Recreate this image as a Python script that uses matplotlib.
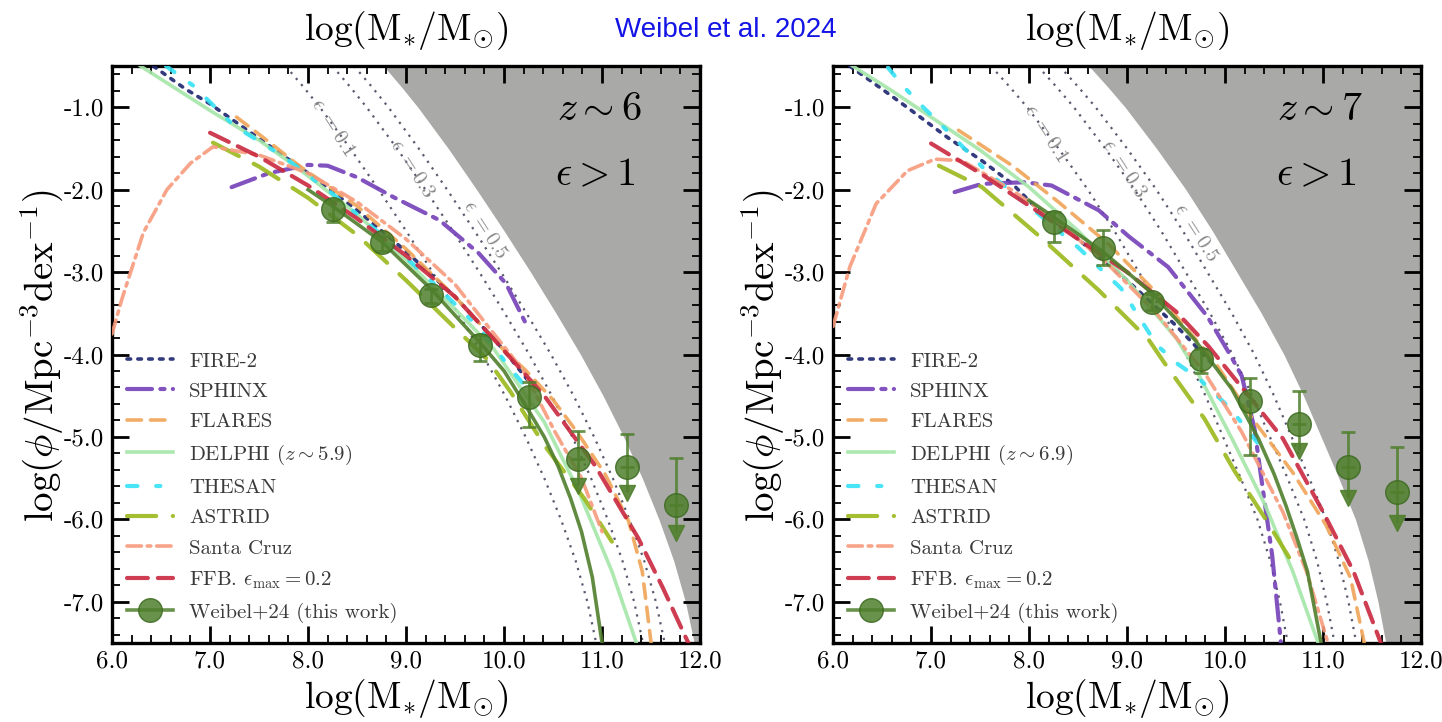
import matplotlib
matplotlib.use('Agg')
import matplotlib.pyplot as plt
from matplotlib.lines import Line2D
from matplotlib.ticker import MultipleLocator
import numpy as np

plt.rcParams['font.family'] = 'serif'
plt.rcParams['font.serif'] = ['cmr10']
plt.rcParams['mathtext.fontset'] = 'cm'
plt.rcParams['axes.unicode_minus'] = False
plt.rcParams['axes.formatter.use_mathtext'] = True

# ------------------------------------------------------------
# data (log M*, log phi)
# ------------------------------------------------------------
# epsilon > 1 limit (grey region), z~6 and z~7
LIMIT_Y = [-0.5, -0.75, -1.0, -1.5, -2.0, -2.5, -3.0, -3.5, -4.0, -4.5, -5.0, -5.5, -6.0, -6.5, -7.0, -7.5]
LIMIT_Z6_X = [8.77, 8.95, 9.12, 9.43, 9.72, 10.0, 10.27, 10.53, 10.78, 11.01, 11.22, 11.41, 11.58, 11.73, 11.85, 11.94]
LIMIT_Z7_X = [8.61, 8.80, 8.98, 9.30, 9.60, 9.87, 10.12, 10.37, 10.60, 10.80, 10.98, 11.16, 11.33, 11.46, 11.56, 11.64]
EPS_VALUES = [0.1, 0.3, 0.5]
EPS_LABELS = [r'$\epsilon\ {=}0.1$', r'$\epsilon\ {=}0.3$', r'$\epsilon\ {=}0.5$']
EPS_LABEL_Z6 = [(8.25, -1.25), (9.06, -1.75), (9.80, -2.49)]
EPS_LABEL_Z7 = [(8.17, -1.32), (8.97, -1.75), (9.70, -2.52)]

# z ~ 6 models
FIRE2_Z6_X = [6.42, 6.75, 7.0, 7.5, 8.0, 8.5, 9.0, 9.5, 10.0, 10.3]
FIRE2_Z6_Y = [-0.5, -0.78, -0.96, -1.38, -1.8, -2.25, -2.75, -3.3, -3.95, -4.4]
SPHINX_Z6_X = [7.22, 7.6, 8.0, 8.2, 8.5, 8.87, 9.34, 9.74, 10.02, 10.22]
SPHINX_Z6_Y = [-1.97, -1.8, -1.7, -1.71, -1.85, -2.09, -2.37, -2.77, -3.14, -3.62]
FLARES_Z6_X = [7.27, 7.6, 7.92, 8.5, 9.0, 9.5, 10.0, 10.21, 10.5, 10.75, 11.03, 11.27, 11.41, 11.5]
FLARES_Z6_Y = [-1.12, -1.42, -1.72, -2.2, -2.72, -3.3, -3.95, -4.18, -4.55, -4.95, -5.45, -6.02, -6.63, -7.5]
DELPHI_Z6_X = [6.29, 7.0, 7.5, 7.92, 8.5, 9.0, 9.5, 9.9, 10.41, 10.75, 11.1, 11.35]
DELPHI_Z6_Y = [-0.5, -1.04, -1.4, -1.76, -2.3, -2.85, -3.45, -3.94, -4.82, -5.63, -6.63, -7.5]
THESAN_Z6_X = [6.55, 6.83, 7.24, 7.75, 8.25, 8.75, 9.25, 9.75, 10.07, 10.3]
THESAN_Z6_Y = [-0.5, -0.74, -1.22, -1.6, -2.05, -2.55, -3.1, -3.68, -4.18, -4.5]
ASTRID_Z6_X = [7.03, 7.5, 8.0, 8.5, 9.0, 9.5, 9.83, 10.07, 10.41, 10.82, 11.1]
ASTRID_Z6_Y = [-1.43, -1.72, -2.1, -2.55, -3.1, -3.68, -4.06, -4.46, -5.1, -5.75, -6.27]
SCRUZ_Z6_X = [6.0, 6.1, 6.32, 6.56, 6.8, 7.03, 7.5, 8.0, 8.5, 9.0, 9.5, 9.85, 10.2, 10.52, 10.79, 11.0]
SCRUZ_Z6_Y = [-3.75, -3.33, -2.52, -2.0, -1.68, -1.48, -1.58, -1.8, -2.15, -2.6, -3.15, -3.68, -4.2, -4.94, -5.5, -6.15]
FFB_Z6_X = [7.0, 7.5, 8.0, 8.5, 9.0, 9.5, 9.9, 10.41, 10.93, 11.37, 11.62, 11.88]
FFB_Z6_Y = [-1.31, -1.6, -1.95, -2.35, -2.8, -3.3, -3.82, -4.5, -5.35, -6.23, -6.83, -7.5]
WFIT_Z6_X = [8.0, 8.25, 8.75, 9.25, 9.75, 10.0, 10.21, 10.41, 10.55, 10.68, 10.79, 10.9, 11.0]
WFIT_Z6_Y = [-2.0, -2.2, -2.63, -3.2, -3.85, -4.2, -4.6, -5.0, -5.35, -5.75, -6.15, -6.7, -7.5]

# z ~ 7 models
FIRE2_Z7_X = [6.17, 6.5, 6.8, 7.16, 7.52, 7.83, 8.03, 8.5, 9.0, 9.5, 9.9]
FIRE2_Z7_Y = [-0.5, -0.78, -1.04, -1.36, -1.65, -1.93, -2.17, -2.6, -3.1, -3.65, -4.15]
SPHINX_Z7_X = [7.24, 7.52, 7.95, 8.23, 8.71, 9.02, 9.42, 9.82, 10.06, 10.17, 10.3, 10.38, 10.48, 10.57]
SPHINX_Z7_Y = [-2.03, -1.93, -1.91, -1.95, -2.25, -2.57, -2.94, -3.54, -4.02, -4.26, -4.9, -5.59, -6.43, -7.5]
FLARES_Z7_X = [7.28, 7.83, 8.3, 8.8, 9.3, 9.9, 10.28, 10.69, 11.03, 11.28, 11.42]
FLARES_Z7_Y = [-1.28, -1.71, -2.15, -2.65, -3.25, -4.1, -4.78, -5.43, -6.07, -6.71, -7.5]
DELPHI_Z7_X = [6.2, 6.6, 7.0, 7.5, 8.0, 8.5, 9.0, 9.5, 9.72, 10.07, 10.41, 10.69, 10.95]
DELPHI_Z7_Y = [-0.5, -0.8, -1.12, -1.52, -1.97, -2.5, -3.1, -3.8, -4.22, -5.02, -5.83, -6.63, -7.5]
THESAN_Z7_X = [6.56, 6.72, 6.92, 7.16, 7.56, 8.0, 8.5, 8.94, 9.3, 9.5, 9.74, 10.05, 10.33]
THESAN_Z7_Y = [-0.52, -0.75, -1.0, -1.28, -1.77, -2.2, -2.7, -3.2, -3.88, -4.1, -4.3, -4.65, -5.07]
ASTRID_Z7_X = [7.08, 7.52, 8.11, 8.71, 9.22, 9.38, 9.79, 10.1, 10.41, 10.72]
ASTRID_Z7_Y = [-1.71, -1.97, -2.57, -3.22, -3.82, -4.1, -4.78, -5.42, -5.99, -6.59]
SCRUZ_Z7_X = [6.0, 6.17, 6.44, 6.76, 7.04, 7.32, 7.83, 8.3, 8.8, 9.3, 9.79, 10.17, 10.59, 10.83, 11.05]
SCRUZ_Z7_Y = [-3.66, -2.94, -2.17, -1.77, -1.63, -1.65, -2.01, -2.4, -2.9, -3.5, -4.22, -4.94, -5.91, -6.63, -7.5]
FFB_Z7_X = [7.0, 7.5, 8.07, 8.5, 9.0, 9.5, 9.83, 10.24, 10.59, 11.0, 11.31, 11.59]
FFB_Z7_Y = [-1.44, -1.8, -2.25, -2.6, -3.0, -3.48, -3.9, -4.5, -5.02, -5.91, -6.63, -7.5]
WFIT_Z7_X = [8.0, 8.25, 8.75, 9.25, 9.69, 10.07, 10.34, 10.5, 10.62, 10.74, 10.84, 10.98]
WFIT_Z7_Y = [-2.13, -2.33, -2.75, -3.25, -3.82, -4.42, -5.02, -5.45, -5.83, -6.25, -6.63, -7.5]

# Weibel+24 points
WEIBEL_X = [8.25, 8.75, 9.25, 9.75, 10.25, 10.75, 11.25, 11.75]
WEIBEL_Z6_Y = [-2.23, -2.64, -3.28, -3.88, -4.52, -5.27, -5.37, -5.83]
WEIBEL_Z6_HI = [0.10, 0.08, 0.08, 0.12, 0.19, 0.34, 0.41, 0.58]
WEIBEL_Z6_LO = [0.16, 0.10, 0.10, 0.20, 0.36, 0.39, 0.38, 0.40]
WEIBEL_Z6_LIM = [False, False, False, False, False, True, True, True]
WEIBEL_Z7_Y = [-2.39, -2.71, -3.36, -4.05, -4.56, -4.84, -5.37, -5.67]
WEIBEL_Z7_HI = [0.12, 0.22, 0.10, 0.12, 0.28, 0.40, 0.43, 0.55]
WEIBEL_Z7_LO = [0.25, 0.20, 0.10, 0.18, 0.66, 0.40, 0.44, 0.44]
WEIBEL_Z7_LIM = [False, False, False, False, False, True, True, True]

LABELS = ['FIRE-2', 'SPHINX', 'FLARES', 'DELPHI', 'THESAN', 'ASTRID',
          'Santa Cruz', r'FFB. $\epsilon_{\rm max}=0.2$']
STYLES = [
    dict(color='#1d2670', ls=(0, (1, 2)), lw=2.6),
    dict(color='#7440b8', ls=(0, (6, 2, 1, 2)), lw=3.0),
    dict(color='#f0a456', ls=(0, (4, 2.5)), lw=2.6),
    dict(color='#a4e6a8', ls='-', lw=2.6),
    dict(color='#35e2f5', ls=(0, (2.5, 4.5, 1, 4.5)), lw=3.0),
    dict(color='#9ab81c', ls=(0, (7, 4)), lw=3.0),
    dict(color='#f79a7c', ls=(0, (4, 1.6, 1, 1.6)), lw=2.6),
    dict(color='#c9283f', ls=(0, (5, 2.4)), lw=3.0),
]
WCOL = '#4f7f2c'


def draw_panel(ax, curves, limit_x, eps_pos, wy, whi, wlo, wlim, ztext, delphi_label):
    ax.fill_betweenx(LIMIT_Y, limit_x, 12.5, color='#a9aaa8', lw=0, zorder=0)
    for eps, lab, pos in zip(EPS_VALUES, EPS_LABELS, eps_pos):
        ax.plot(np.array(limit_x) + np.log10(eps), LIMIT_Y, color='#5a5a6e',
                ls=(0, (1, 2.6)), lw=1.6, zorder=1)
        ax.text(pos[0], pos[1], lab, rotation=-57, color='#8a8a8a', fontsize=15,
                ha='center', va='center', zorder=1)

    handles = []
    for (cx, cy), st, lab in zip(curves, STYLES, LABELS):
        if lab == 'DELPHI':
            lab = delphi_label
        h, = ax.plot(cx, cy, color=st['color'], ls=st['ls'], lw=st['lw'],
                     alpha=0.9, zorder=3, label=lab, dash_capstyle='round')
        handles.append(h)

    # Weibel+24 fit and points
    ax.plot(curves[-1][0], curves[-1][1], color=WCOL, lw=2.6, alpha=0.9, zorder=4)
    wx = np.array(WEIBEL_X)
    wy = np.array(wy)
    lo = np.array(wlo)
    hi = np.array(whi)
    lim = np.array(wlim)
    lo_plot = np.where(lim, 0.0, lo)
    ax.errorbar(wx, wy, yerr=[lo_plot, hi], fmt='o', ms=17, color=WCOL,
                mec='#3c6a20', alpha=0.85, elinewidth=2, capsize=5, capthick=2, zorder=5)
    ax.vlines(wx[lim], wy[lim], wy[lim] - lo[lim] + 0.08, color=WCOL, lw=2, alpha=0.85, zorder=5)
    ax.plot(wx[lim], wy[lim] - lo[lim] + 0.07, 'v', ms=11, color=WCOL, alpha=0.9, zorder=5)

    weibel_h = Line2D([], [], color=WCOL, lw=2.6, marker='o', ms=17, mec='#3c6a20', alpha=0.85)
    handles.append(weibel_h)
    leg = ax.legend(handles, [h.get_label() for h in handles[:-1]] + ['Weibel+24 (this work)'],
                    loc='lower left', bbox_to_anchor=(0.012, 0.021), frameon=False,
                    fontsize=15, handlelength=2.2, handletextpad=0.75, labelspacing=0.56,
                    borderaxespad=0.0)
    for t in leg.get_texts():
        t.set_color('#3a3a3a')

    ax.text(0.90, 0.924, ztext, transform=ax.transAxes, ha='right', va='center', fontsize=29)
    ax.text(0.89, 0.811, r'$\epsilon > 1$', transform=ax.transAxes, ha='right', va='center', fontsize=29)

    ax.set_xlim(6.0, 12.0)
    ax.set_ylim(-7.5, -0.5)
    ax.set_xticks(np.arange(6, 13))
    ax.set_xticklabels(['%.1f' % v for v in np.arange(6, 13)])
    ax.set_yticks(np.arange(-7, 0))
    ax.set_yticklabels(['-%.1f' % abs(v) for v in np.arange(-7, 0)])
    ax.xaxis.set_minor_locator(MultipleLocator(0.2))
    ax.yaxis.set_minor_locator(MultipleLocator(0.2))
    ax.tick_params(which='both', direction='in', top=True, right=True, labelsize=18)
    ax.tick_params(which='major', length=12, width=2)
    ax.tick_params(which='minor', length=6, width=1.3)
    ax.tick_params(axis='x', pad=5)
    ax.tick_params(axis='y', pad=6)
    for sp in ax.spines.values():
        sp.set_linewidth(2.4)

    mlabel = r'$\log(\mathrm{M}_{*}/\mathrm{M}_{\odot})$'
    ax.text(0.5, -0.097, mlabel, transform=ax.transAxes, ha='center', va='center', fontsize=27)
    ax.text(0.5, 1.062, mlabel, transform=ax.transAxes, ha='center', va='center', fontsize=27)
    ax.text(-0.12, 0.497, r'$\log(\phi/\mathrm{Mpc}^{-3}\mathrm{dex}^{-1})$', transform=ax.transAxes,
            ha='center', va='center', rotation=90, fontsize=28)


fig = plt.figure(figsize=(14.42, 7.22), dpi=100)
ax1 = fig.add_axes([0.0777, 0.1094, 0.4078, 0.7992])
ax2 = fig.add_axes([0.5777, 0.1094, 0.4078, 0.7992])

curves6 = [(FIRE2_Z6_X, FIRE2_Z6_Y), (SPHINX_Z6_X, SPHINX_Z6_Y), (FLARES_Z6_X, FLARES_Z6_Y),
           (DELPHI_Z6_X, DELPHI_Z6_Y), (THESAN_Z6_X, THESAN_Z6_Y), (ASTRID_Z6_X, ASTRID_Z6_Y),
           (SCRUZ_Z6_X, SCRUZ_Z6_Y), (FFB_Z6_X, FFB_Z6_Y), (WFIT_Z6_X, WFIT_Z6_Y)]
curves7 = [(FIRE2_Z7_X, FIRE2_Z7_Y), (SPHINX_Z7_X, SPHINX_Z7_Y), (FLARES_Z7_X, FLARES_Z7_Y),
           (DELPHI_Z7_X, DELPHI_Z7_Y), (THESAN_Z7_X, THESAN_Z7_Y), (ASTRID_Z7_X, ASTRID_Z7_Y),
           (SCRUZ_Z7_X, SCRUZ_Z7_Y), (FFB_Z7_X, FFB_Z7_Y), (WFIT_Z7_X, WFIT_Z7_Y)]

draw_panel(ax1, curves6, LIMIT_Z6_X, EPS_LABEL_Z6, WEIBEL_Z6_Y, WEIBEL_Z6_HI, WEIBEL_Z6_LO,
           WEIBEL_Z6_LIM, r'$z\sim6$', r'DELPHI ($z\sim5.9$)')
draw_panel(ax2, curves7, LIMIT_Z7_X, EPS_LABEL_Z7, WEIBEL_Z7_Y, WEIBEL_Z7_HI, WEIBEL_Z7_LO,
           WEIBEL_Z7_LIM, r'$z\sim7$', r'DELPHI ($z\sim6.9$)')

fig.text(0.503, 0.958, 'Weibel et al. 2024', color='#1414e6', fontsize=20,
         family='Liberation Sans', ha='center', va='center')

fig.savefig('out.png', dpi=100)
